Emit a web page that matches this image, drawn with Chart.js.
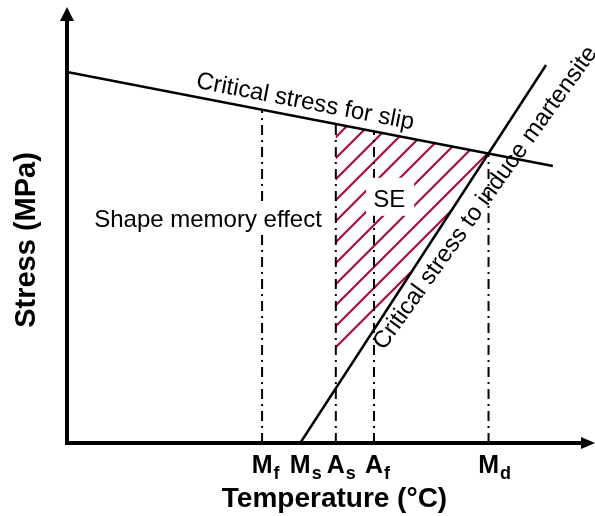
<!DOCTYPE html>
<html>
<head>
<meta charset="utf-8">
<title>Stress–temperature diagram</title>
<script src="https://cdn.jsdelivr.net/npm/chart.js@4.4.0/dist/chart.umd.min.js"></script>
<style>
  html, body { margin: 0; padding: 0; background: #fff; }
  #wrap { width: 595px; height: 516px; }
  canvas { display: block; }
</style>
</head>
<body>
<div id="wrap"><canvas id="diagram" width="595" height="516"></canvas></div>
<script>
// Transformation temperatures (schematic units on the temperature axis)
const transitionNames = ['M', 'M', 'A', 'A', 'M'];
const transitionSubs = ['f', 's', 's', 'f', 'd'];
const transitionTemps = [37.3, 44.6, 51.4, 58.7, 80.6];
const transitionGuide = [true, false, true, true, true]; // dash-dot guide up to the slip line

// Critical stress for slip
const slipTemps = [0, 92.9];
const slipStress = [85.3, 63.7];

// Critical stress to induce martensite
const inducedTemps = [44.6, 91.6];
const inducedStress = [0, 86.9];

// Superelastic (SE) window, hatched
const seTemps = [51.4, 80.6, 65.3, 51.4];
const seStress = [73.3, 66.6, 38.2, 21.4];

const FONT = '"Liberation Sans", Arial, sans-serif';
const HATCH = '#a8103a';

const toPoints = (xs, ys) => xs.map((x, i) => ({ x, y: ys[i] }));
const lineAt = (xs, ys, t) => ys[0] + (ys[1] - ys[0]) * (t - xs[0]) / (xs[1] - xs[0]);

function hatchPattern(color, gap, shift) {
    const tile = document.createElement('canvas');
    tile.width = gap;
    tile.height = gap;
    const g = tile.getContext('2d');
    g.strokeStyle = color;
    g.lineWidth = 2.2;
    g.beginPath();
    g.moveTo(-2, gap + 2); g.lineTo(gap + 2, -2);
    g.moveTo(-2, 2); g.lineTo(2, -2);
    g.moveTo(gap - 2, gap + 2); g.lineTo(gap + 2, gap - 2);
    g.stroke();
    const pattern = g.createPattern(tile, 'repeat');
    pattern.setTransform(new DOMMatrix().translate(shift, 0));
    return pattern;
}
const seFill = hatchPattern(HATCH, 21, 11);

// text laid along a straight line, anchored at temperature `at`; `tilt` turns it off the line a little
function textAlongLine(chart, text, xs, ys, at, offset, tilt = 0) {
    const c = chart.ctx;
    const sx = chart.scales.x, sy = chart.scales.y;
    const x0 = sx.getPixelForValue(xs[0]), y0 = sy.getPixelForValue(ys[0]);
    const x1 = sx.getPixelForValue(xs[1]), y1 = sy.getPixelForValue(ys[1]);
    const ang = Math.atan2(y1 - y0, x1 - x0);
    c.save();
    c.translate(sx.getPixelForValue(at), sy.getPixelForValue(lineAt(xs, ys, at)));
    c.rotate(ang);
    c.translate(0, offset);
    c.rotate(tilt * Math.PI / 180);
    c.textAlign = 'left';
    c.textBaseline = 'alphabetic';
    c.fillText(text, 0, 0);
    c.restore();
}

const guideSets = transitionTemps
    .map((t, i) => ({ t, i }))
    .filter(d => transitionGuide[d.i])
    .map(d => ({
        label: transitionNames[d.i] + transitionSubs[d.i],
        data: [{ x: d.t, y: 0 }, { x: d.t, y: lineAt(slipTemps, slipStress, d.t) }],
        borderColor: '#000',
        borderWidth: 2,
        borderDash: [10, 5, 2, 5],
        pointRadius: 0
    }));

const diagramDecor = {
    id: 'diagramDecor',
    beforeDatasetsDraw(chart) {
        // hatched SE window
        const idx = chart.data.datasets.findIndex(d => d.label === 'SE window');
        const pts = chart.getDatasetMeta(idx).data;
        const c = chart.ctx;
        c.save();
        c.beginPath();
        pts.forEach((p, i) => i ? c.lineTo(p.x, p.y) : c.moveTo(p.x, p.y));
        c.closePath();
        c.fillStyle = seFill;
        c.fill();
        c.restore();
    },
    afterDatasetsDraw(chart) {
        const c = chart.ctx;
        const { left, bottom } = chart.chartArea;
        const sx = chart.scales.x, sy = chart.scales.y;
        c.save();
        c.fillStyle = '#000';
        c.strokeStyle = '#000';

        // axes with arrow heads
        c.lineWidth = 4;
        c.beginPath();
        c.moveTo(left, bottom + 2); c.lineTo(left, 20);
        c.moveTo(left - 2, bottom); c.lineTo(582, bottom);
        c.stroke();
        c.beginPath();
        c.moveTo(left, 7); c.lineTo(left - 7, 21); c.lineTo(left + 7, 21); c.closePath();
        c.moveTo(595, bottom); c.lineTo(581, bottom - 6); c.lineTo(581, bottom + 6); c.closePath();
        c.fill();

        // SE label on a white box
        c.font = `24px ${FONT}`;
        c.textBaseline = 'alphabetic';
        const seX = sx.getPixelForValue(61.6), seY = sy.getPixelForValue(54.3);
        c.fillStyle = '#fff';
        c.fillRect(seX - 23, seY - 29, 48, 38);
        c.fillStyle = '#000';
        c.textAlign = 'center';
        c.fillText('SE', seX, seY);

        // region label, also on white
        const smeText = 'Shape memory effect';
        const smeX = sx.getPixelForValue(5.2), smeY = sy.getPixelForValue(49.7);
        const smeW = c.measureText(smeText).width;
        c.fillStyle = '#fff';
        c.fillRect(smeX - 4, smeY - 22, smeW + 8, 30);
        c.fillStyle = '#000';
        c.textAlign = 'left';
        c.fillText(smeText, smeX, smeY);

        textAlongLine(chart, 'Critical stress for slip', slipTemps, slipStress, 24.2, -9);
        textAlongLine(chart, 'Critical stress to induce martensite', inducedTemps, inducedStress, 57.4, 20, 2.6);

        // transformation temperature labels with subscripts
        transitionTemps.forEach((t, i) => {
            const x = sx.getPixelForValue(t);
            c.font = `bold 25px ${FONT}`;
            c.textAlign = 'center';
            const w = c.measureText(transitionNames[i]).width;
            c.fillText(transitionNames[i], x, bottom + 30);
            c.font = `bold 18px ${FONT}`;
            c.textAlign = 'left';
            c.fillText(transitionSubs[i], x + w / 2 + 1, bottom + 36);
        });

        // axis titles
        c.font = `bold 28px ${FONT}`;
        c.textAlign = 'center';
        c.fillText('Temperature (°C)', 334.5, 507);
        c.save();
        c.translate(35, 240);
        c.rotate(-Math.PI / 2);
        c.font = `bold 29px ${FONT}`;
        c.fillText('Stress (MPa)', 0, 0);
        c.restore();

        c.restore();
    }
};

new Chart(document.getElementById('diagram'), {
    type: 'line',
    data: {
        datasets: [
            {
                label: 'Critical stress for slip',
                data: toPoints(slipTemps, slipStress),
                borderColor: '#000',
                borderWidth: 2.5,
                pointRadius: 0
            },
            {
                label: 'Critical stress to induce martensite',
                data: toPoints(inducedTemps, inducedStress),
                borderColor: '#000',
                borderWidth: 2.5,
                pointRadius: 0
            },
            ...guideSets,
            {
                label: 'SE window',
                data: toPoints(seTemps, seStress),
                borderWidth: 0,
                pointRadius: 0,
                fill: false
            }
        ]
    },
    options: {
        responsive: false,
        devicePixelRatio: 1,
        animation: false,
        events: [],
        layout: { padding: { left: 67, right: 5, top: 8, bottom: 73 } },
        scales: {
            x: { type: 'linear', min: 0, max: 100, display: false },
            y: { type: 'linear', min: 0, max: 100, display: false }
        },
        plugins: {
            legend: { display: false },
            tooltip: { enabled: false }
        }
    },
    plugins: [diagramDecor]
});
</script>
</body>
</html>
